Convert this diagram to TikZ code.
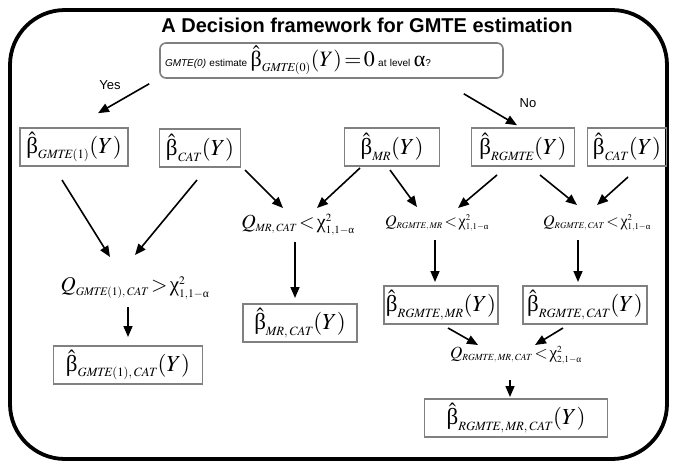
\documentclass[tikz,border=0pt]{standalone}
\usepackage{amsmath}
\usepackage{mathptmx}
\renewcommand\defaultscriptratio{.55}
\renewcommand\defaultscriptscriptratio{.42}
\usepackage{fontspec}
\setmainfont{Liberation Sans}
\newfontfamily\greekfont{Liberation Serif}
\newcommand\ubeta{\text{\greekfont β}}
\newcommand\ualpha{\text{\greekfont α}}
\newcommand\uchi{\text{\greekfont χ}}
\usepackage{xcolor}
\usepackage{tikz}
\usetikzlibrary{arrows.meta}

\begin{document}
\begin{tikzpicture}[
    x=1pt, y=-1pt,
    frame/.style={draw, line width=3.8pt, rounded corners=55pt, minimum width=657pt, minimum height=449pt},
    question/.style={draw=gray, line width=1.6pt, rounded corners=6pt, text width=333pt, align=left, minimum height=35pt, inner xsep=5pt, inner ysep=1pt},
    est/.style={draw=gray, line width=1.6pt, inner sep=2pt, minimum height=38pt, font=\fontsize{23}{25}\selectfont},
    test/.style={inner sep=1pt, font=\fontsize{20}{22}\selectfont},
    smalltest/.style={inner sep=1pt, font=\fontsize{16}{18}\selectfont},
    answer/.style={font=\fontsize{13}{15}\selectfont},
    arrow/.style={-{Triangle[length=11pt,width=9pt]}, line width=1.6pt}
]
\useasboundingbox (0,0) rectangle (674,464);

% Outer frame and title
\node[frame] (frame) at (338.5,234.5) {};
\node[font=\fontsize{20}{23}\selectfont\bfseries] (title) at (367,25) {A Decision framework for GMTE estimation};

% Starting question
\node[question] (top) at (331.5,60.5) {\fontsize{10}{11}\selectfont\textit{GMTE(0)} estimate \fontsize{22}{24}\selectfont$\hat{\ubeta}_{\mathit{GMTE}(0)}(Y)\!=\!0$ \fontsize{10}{11}\selectfont at level \fontsize{22}{24}\selectfont$\ualpha$\fontsize{10}{11}\selectfont ?};
\node[answer] (yes) at (110,85) {Yes};
\node[answer] (no) at (528,103) {No};

% First row of estimators
\node[est, minimum width=108pt] (b1) at (74,147) {$\hat{\ubeta}_{\mathit{GMTE}(1)}(Y)$};
\node[est, minimum width=81pt] (b2) at (200,148) {$\hat{\ubeta}_{\mathit{CAT}}(Y)$};
\node[est, minimum width=95pt] (b3) at (392,147) {$\hat{\ubeta}_{\mathit{MR}}(Y)$};
\node[est, minimum width=103pt] (b4) at (523,147) {$\hat{\ubeta}_{\mathit{RGMTE}}(Y)$};
\node[est, minimum width=79pt] (b5) at (627,147) {$\hat{\ubeta}_{\mathit{CAT}}(Y)$};

% Tests
\node[test, font=\fontsize{21}{23}\selectfont] (q1) at (135,288) {$Q_{\mathit{GMTE}(1),\,\mathit{CAT}}\!>\!\uchi^2_{1,1-\ualpha}$};
\node[test] (q2) at (298,225) {$Q_{\mathit{MR},\,\mathit{CAT}}\!<\!\uchi^2_{1,1-\ualpha}$};
\node[smalltest] (q3) at (437,223) {$Q_{\mathit{RGMTE},\,\mathit{MR}}\!<\!\uchi^2_{1,1-\ualpha}$};
\node[smalltest] (q4) at (597,223) {$Q_{\mathit{RGMTE},\,\mathit{CAT}}\!<\!\uchi^2_{1,1-\ualpha}$};
\node[smalltest, font=\fontsize{17}{19}\selectfont] (q5) at (516,355) {$Q_{\mathit{RGMTE},\,\mathit{MR},\,\mathit{CAT}}\!<\!\uchi^2_{2,1-\ualpha}$};

% Combined estimators
\node[est, minimum width=149pt] (bgc) at (128,365) {$\hat{\ubeta}_{\mathit{GMTE}(1),\,\mathit{CAT}}(Y)$};
\node[est, minimum width=114pt] (bmc) at (300,323) {$\hat{\ubeta}_{\mathit{MR},\,\mathit{CAT}}(Y)$};
\node[est, minimum width=113pt] (brm) at (441,305) {$\hat{\ubeta}_{\mathit{RGMTE},\,\mathit{MR}}(Y)$};
\node[est, minimum width=124pt] (brc) at (585,305) {$\hat{\ubeta}_{\mathit{RGMTE},\,\mathit{CAT}}(Y)$};
\node[est, minimum width=183pt] (bfin) at (516,418) {$\hat{\ubeta}_{\mathit{RGMTE},\,\mathit{MR},\,\mathit{CAT}}(Y)$};

% Yes / No branches
\draw[arrow] ([xshift=-10pt,yshift=-5pt]top.south west) -- ([xshift=24pt,yshift=14pt]b1.north);
\draw[arrow] ([xshift=-40pt,yshift=-15pt]top.south east) -- ([xshift=-6pt,yshift=2pt]b4.north);

% Estimators to tests
\draw[arrow] ([xshift=-12pt,yshift=-33pt]b1.center) -- ([xshift=-25pt,yshift=31pt]q1.center);
\draw[arrow] ([xshift=-3pt,yshift=-32pt]b2.center) -- ([yshift=33pt]q1.center);
\draw[arrow] ([xshift=45pt,yshift=-22pt]b2.center) -- ([xshift=-15pt,yshift=17pt]q2.center);
\draw[arrow] ([xshift=-32pt,yshift=-21pt]b3.center) -- ([xshift=19pt,yshift=17pt]q2.center);
\draw[arrow] ([xshift=-2pt,yshift=-23pt]b3.center) -- ([xshift=-20pt,yshift=16pt]q3.center);
\draw[arrow] ([xshift=-26pt,yshift=-28pt]b4.center) -- ([xshift=21pt,yshift=15pt]q3.center);
\draw[arrow] ([xshift=17pt,yshift=-28pt]b4.center) -- ([xshift=-20pt,yshift=18pt]q4.center);
\draw[arrow] ([xshift=1pt,yshift=-30pt]b5.center) -- ([yshift=18pt]q4.center);

% Tests to combined estimators
\draw[arrow] ([xshift=-7pt,yshift=-19pt]q1.center) -- ([yshift=28pt]bgc.center);
\draw[arrow] ([xshift=-3pt,yshift=-17pt]q2.center) -- ([xshift=-5pt,yshift=25pt]bmc.center);
\draw[arrow] ([xshift=-2pt,yshift=-17pt]q3.center) -- ([xshift=-6pt,yshift=23pt]brm.center);
\draw[arrow] ([xshift=-19pt,yshift=-17pt]q4.center) -- ([xshift=-7pt,yshift=23pt]brc.center);

% Final combination
\draw[arrow] ([xshift=7pt,yshift=-23pt]brm.center) -- ([xshift=-38pt,yshift=10pt]q5.center);
\draw[arrow] ([xshift=-22pt,yshift=-23pt]brc.center) -- ([xshift=19pt,yshift=10pt]q5.center);
\draw[arrow] ([xshift=-6pt,yshift=-25pt]q5.center) -- ([xshift=-6pt,yshift=21pt]bfin.center);

\end{tikzpicture}
\end{document}
